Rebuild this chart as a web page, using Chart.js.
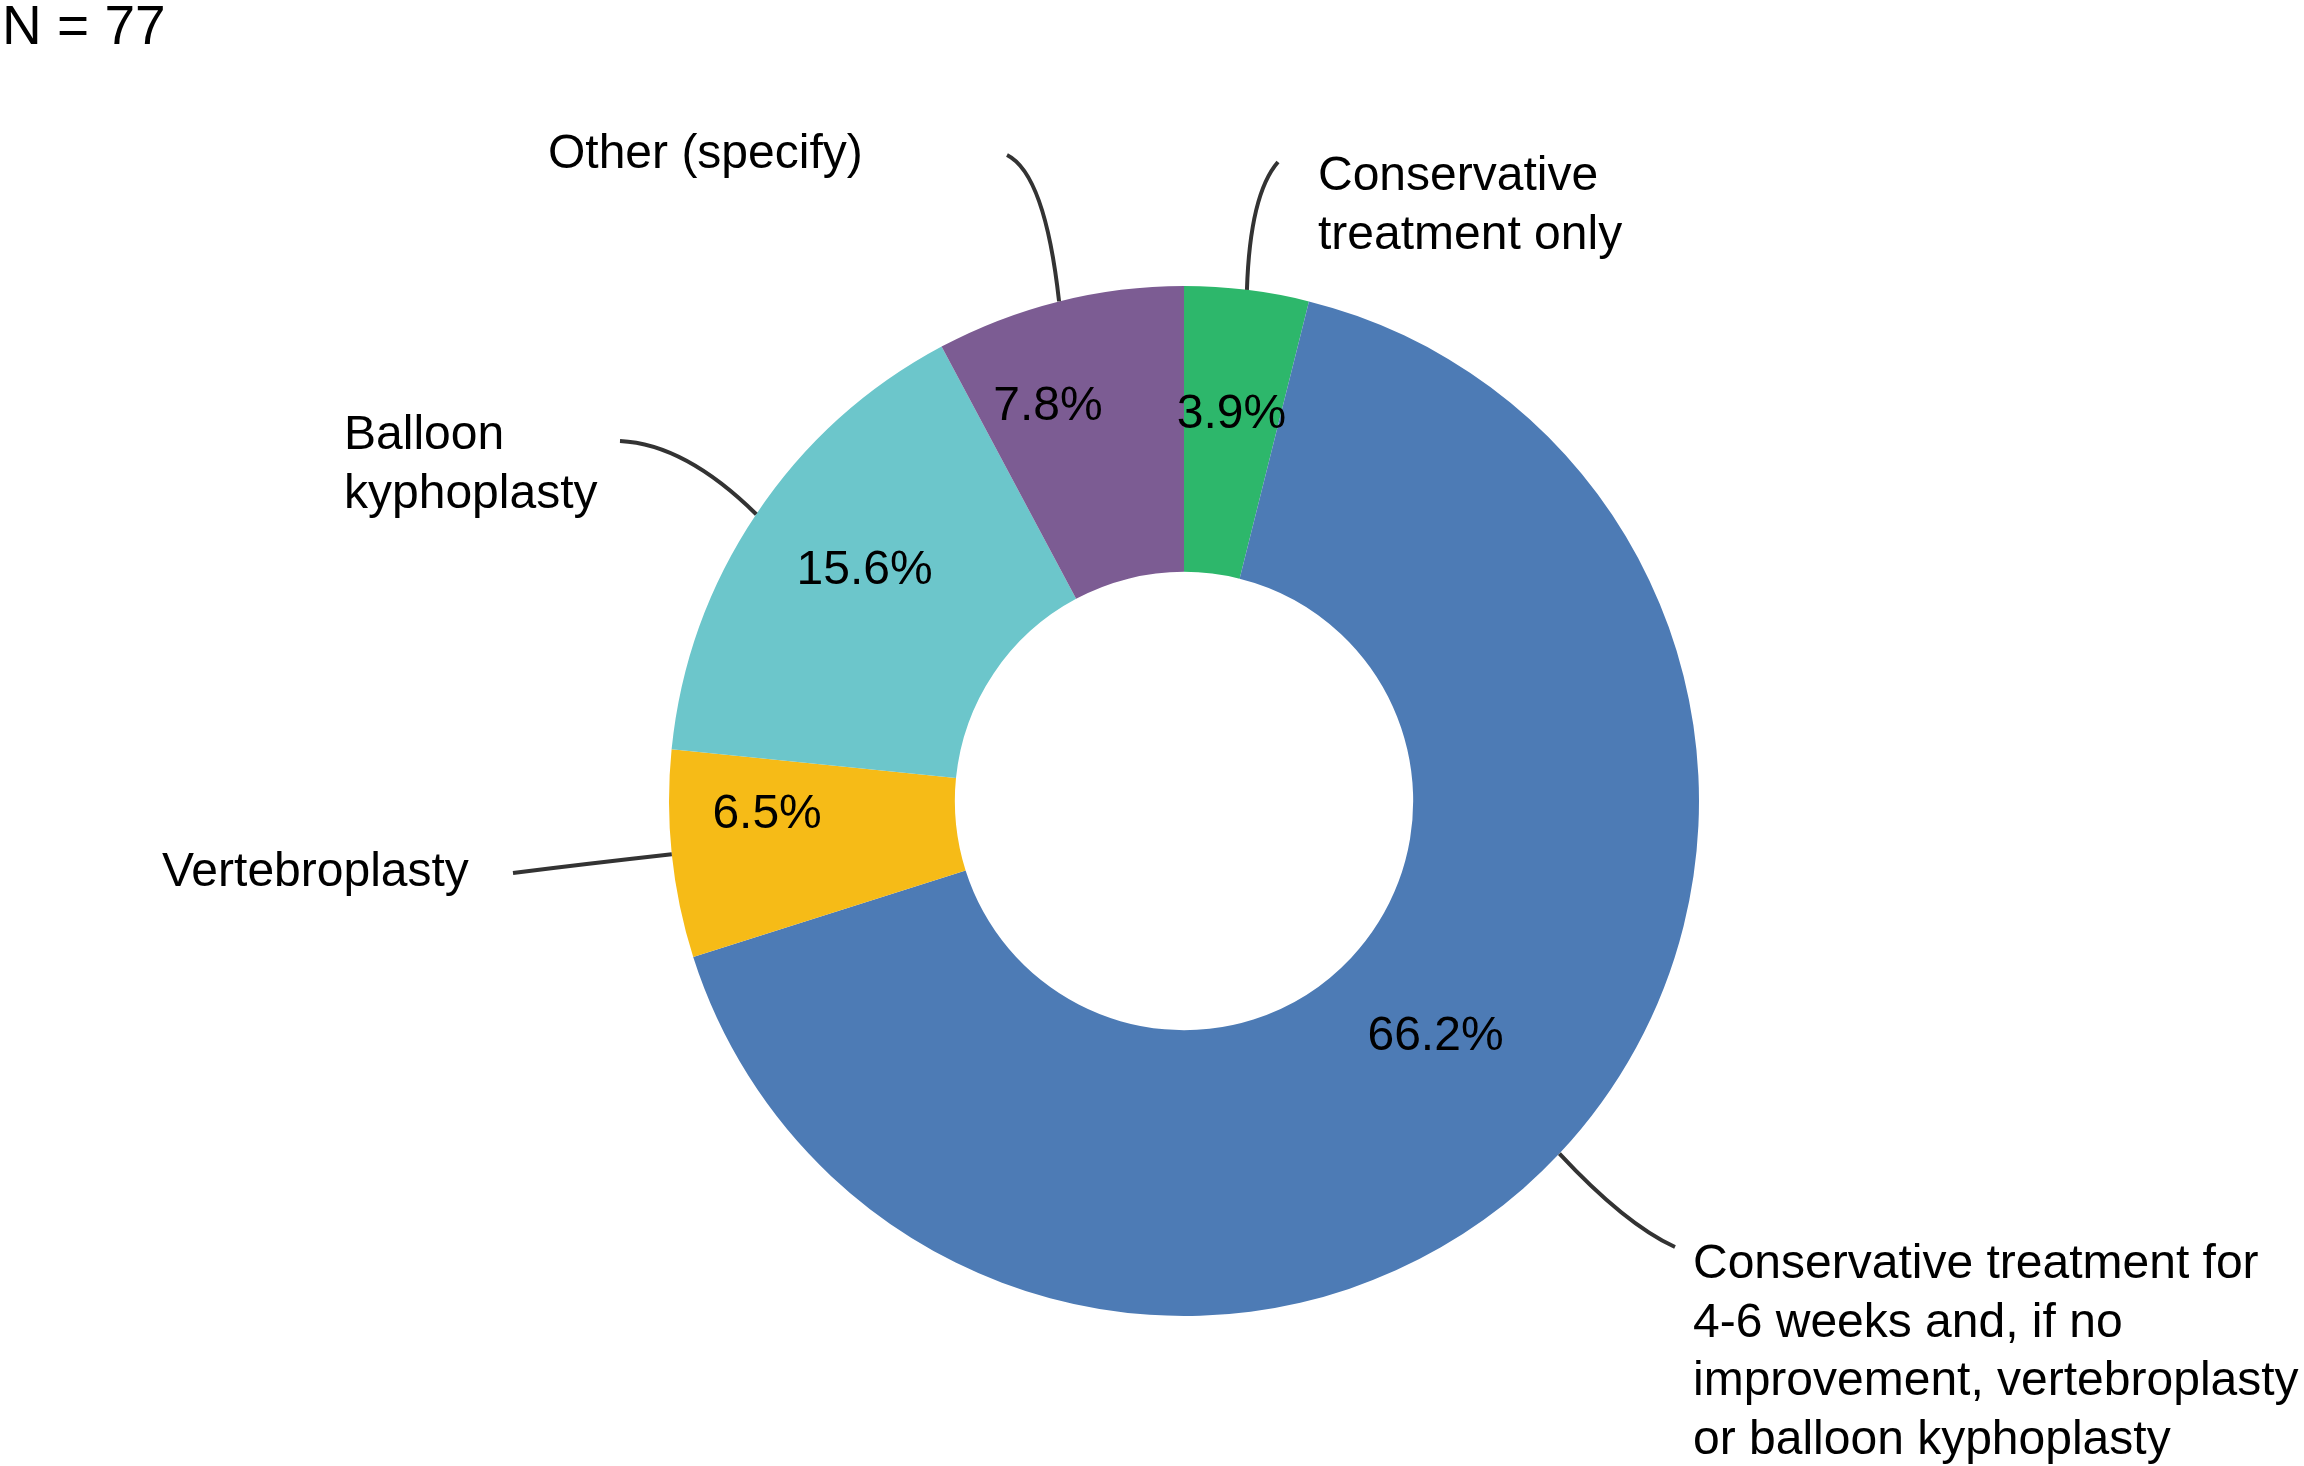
<!DOCTYPE html>
<html>
<head>
<meta charset="utf-8">
<script src="https://cdn.jsdelivr.net/npm/chart.js@4.4.1/dist/chart.umd.min.js"></script>
<style>
  html, body { margin: 0; padding: 0; background: #fff; }
  #wrap { position: relative; width: 2304px; height: 1466px; }
</style>
</head>
<body>
<div id="wrap"><canvas id="chart"></canvas></div>
<script>
// data, clockwise from 12 o'clock
const categories = [
  'Conservative treatment only',
  'Conservative treatment for 4-6 weeks and, if no improvement, vertebroplasty or balloon kyphoplasty',
  'Vertebroplasty',
  'Balloon kyphoplasty',
  'Other (specify)'
];
const shares = [3.9, 66.2, 6.5, 15.6, 7.8];
const colors = ['#2db76b', '#4d7bb5', '#f6bb17', '#6cc6cb', '#7c5c93'];
const sampleSize = 77;

// callout text lines per slice
const calloutLines = [
  ['Conservative', 'treatment only'],
  ['Conservative treatment for', '4-6 weeks and, if no', 'improvement, vertebroplasty', 'or balloon kyphoplasty'],
  ['Vertebroplasty'],
  ['Balloon', 'kyphoplasty'],
  ['Other (specify)']
];

// layout for callouts, in px relative to chart centre at radius 515
const REF_R = 515;
const callouts = [
  {text: [134, -624], lineH: 59, end: [94, -639], ctrl: [66, -607]},
  {text: [509, 464], lineH: 58.6, end: [491, 446], ctrl: [441, 423]},
  {text: [-1022, 72], lineH: 59, end: [-671, 72], ctrl: [-599, 63]},
  {text: [-840, -365], lineH: 59, end: [-564, -360], ctrl: [-499, -357]},
  {text: [-636, -646], lineH: 59, end: [-177, -646], ctrl: [-139, -627]}
];
// where the percentage sits: fraction of outer radius, angle nudge in degrees
const pctRadius = [0.755, 0.67, 0.81, 0.765, 0.81];
const pctNudge = [0, 0, 4, 2, -5];

const FONT = '"Liberation Sans", Arial, sans-serif';

const calloutPlugin = {
  id: 'callouts',
  afterDraw(chart) {
    const ctx = chart.ctx;
    const arcs = chart.getDatasetMeta(0).data;
    ctx.save();
    ctx.fillStyle = '#000';
    ctx.font = '55px ' + FONT;
    ctx.textBaseline = 'middle';
    ctx.textAlign = 'left';
    ctx.fillText('N = ' + sampleSize, 2, 29);

    arcs.forEach((arc, i) => {
      const p = arc.getProps(['x', 'y', 'startAngle', 'endAngle', 'outerRadius', 'innerRadius'], true);
      const mid = (p.startAngle + p.endAngle) / 2;
      const k = p.outerRadius / REF_R;

      // percentage inside the ring
      const r = p.outerRadius * pctRadius[i];
      const a = mid + pctNudge[i] * Math.PI / 180;
      ctx.font = '48px ' + FONT;
      ctx.textAlign = 'center';
      ctx.fillStyle = '#000';
      ctx.fillText(shares[i].toFixed(1) + '%', p.x + Math.cos(a) * r, p.y + Math.sin(a) * r);

      // leader line from the outer edge
      const c = callouts[i];
      const sx = p.x + Math.cos(mid) * p.outerRadius;
      const sy = p.y + Math.sin(mid) * p.outerRadius;
      ctx.beginPath();
      ctx.moveTo(sx, sy);
      ctx.quadraticCurveTo(p.x + c.ctrl[0] * k, p.y + c.ctrl[1] * k, p.x + c.end[0] * k, p.y + c.end[1] * k);
      ctx.strokeStyle = '#333';
      ctx.lineWidth = 4;
      ctx.stroke();

      // callout text
      ctx.textAlign = 'left';
      calloutLines[i].forEach((ln, j) => {
        ctx.fillText(ln, p.x + c.text[0] * k, p.y + c.text[1] * k + j * c.lineH * k);
      });
    });
    ctx.restore();
  }
};

new Chart(document.getElementById('chart'), {
  type: 'doughnut',
  data: {
    labels: categories,
    datasets: [{
      data: shares,
      backgroundColor: colors,
      borderWidth: 0
    }]
  },
  options: {
    responsive: true,
    maintainAspectRatio: false,
    devicePixelRatio: 1,
    animation: false,
    cutout: '44.5%',
    layout: {padding: {top: 286, bottom: 150, left: 564, right: 500}},
    plugins: {
      legend: {display: false},
      title: {display: false},
      tooltip: {enabled: false}
    }
  },
  plugins: [calloutPlugin]
});
</script>
</body>
</html>
